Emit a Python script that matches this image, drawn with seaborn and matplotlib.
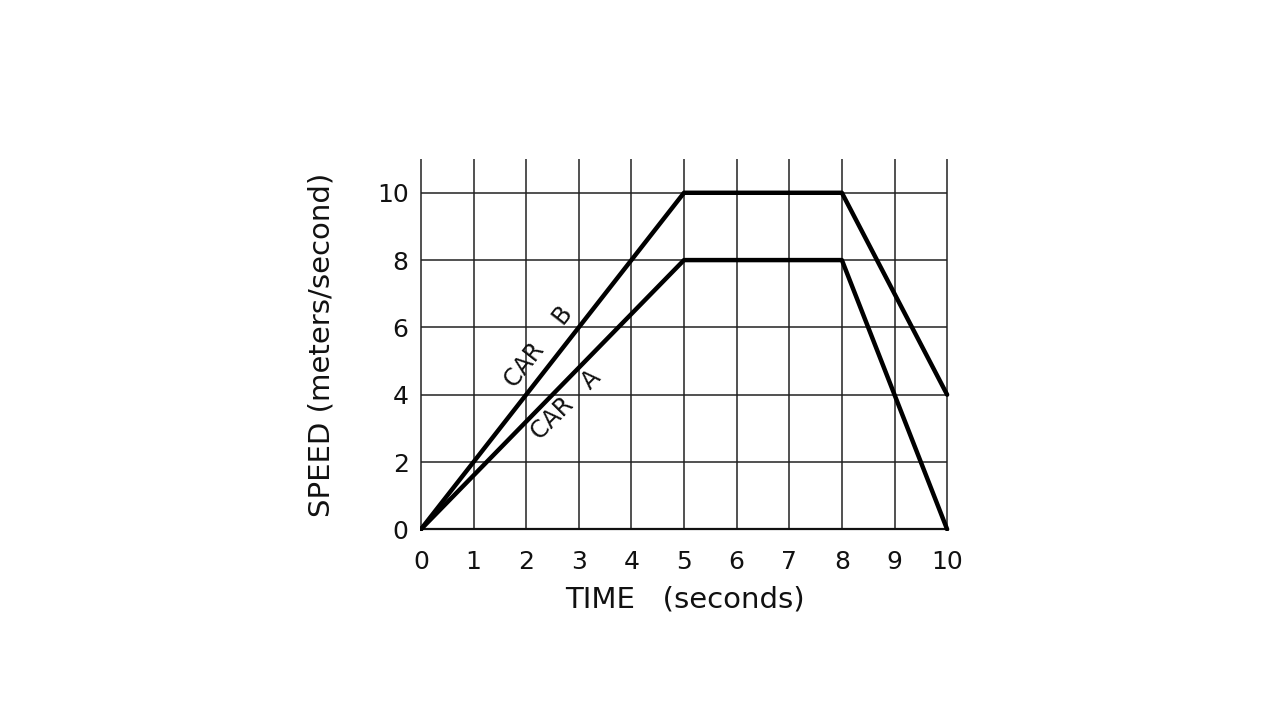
import matplotlib
matplotlib.use("Agg")
import matplotlib.pyplot as plt
import seaborn as sns
import pandas as pd

time_s = [0, 5, 8, 10]
car_a = [0, 8, 8, 0]
car_b = [0, 10, 10, 4]
x_ticks = list(range(0, 11))
y_ticks = [0, 2, 4, 6, 8, 10]

sns.set_theme(style="white")
plt.rcParams['font.family'] = ['DejaVu Sans']

df = pd.DataFrame({"t": time_s * 2, "v": car_a + car_b,
                   "car": ["A"] * 4 + ["B"] * 4})

fig = plt.figure(figsize=(12.8, 7.2), dpi=100)
ax = fig.add_axes([0.328, 0.2625, 0.414, 0.5165])

# grid
for x in x_ticks:
    ax.plot([x, x], [0, 11], color="#222222", lw=1.1, zorder=1, solid_capstyle="butt")
for y in y_ticks[1:]:
    ax.plot([0, 10], [y, y], color="#222222", lw=1.1, zorder=1, solid_capstyle="butt")
ax.plot([0, 10], [0, 0], color="#111111", lw=1.6, zorder=1)

sns.lineplot(data=df, x="t", y="v", hue="car", palette={"A": "black", "B": "black"},
             lw=3.2, legend=False, ax=ax, zorder=3)

ax.set_xlim(-0.02, 10.05)
ax.set_ylim(-0.05, 11)
for s in ax.spines.values():
    s.set_visible(False)
ax.set_xticks(x_ticks)
ax.set_yticks(y_ticks)
ax.tick_params(axis="both", length=0, labelsize=18, colors="#111111")
ax.tick_params(axis="x", pad=14)
ax.tick_params(axis="y", pad=8)
ax.set_xlabel("TIME   (seconds)", fontsize=21, color="#111111", labelpad=8)
ax.set_ylabel("SPEED (meters/second)", fontsize=21, color="#111111", labelpad=30)

ax.text(2.25, 5.4, "CAR    B", rotation=52, rotation_mode="anchor",
        ha="center", va="center", fontsize=17, color="#111111")
ax.text(2.75, 3.7, "CAR   A", rotation=45, rotation_mode="anchor",
        ha="center", va="center", fontsize=17, color="#111111")

fig.savefig("out.png", dpi=100, facecolor="white")
